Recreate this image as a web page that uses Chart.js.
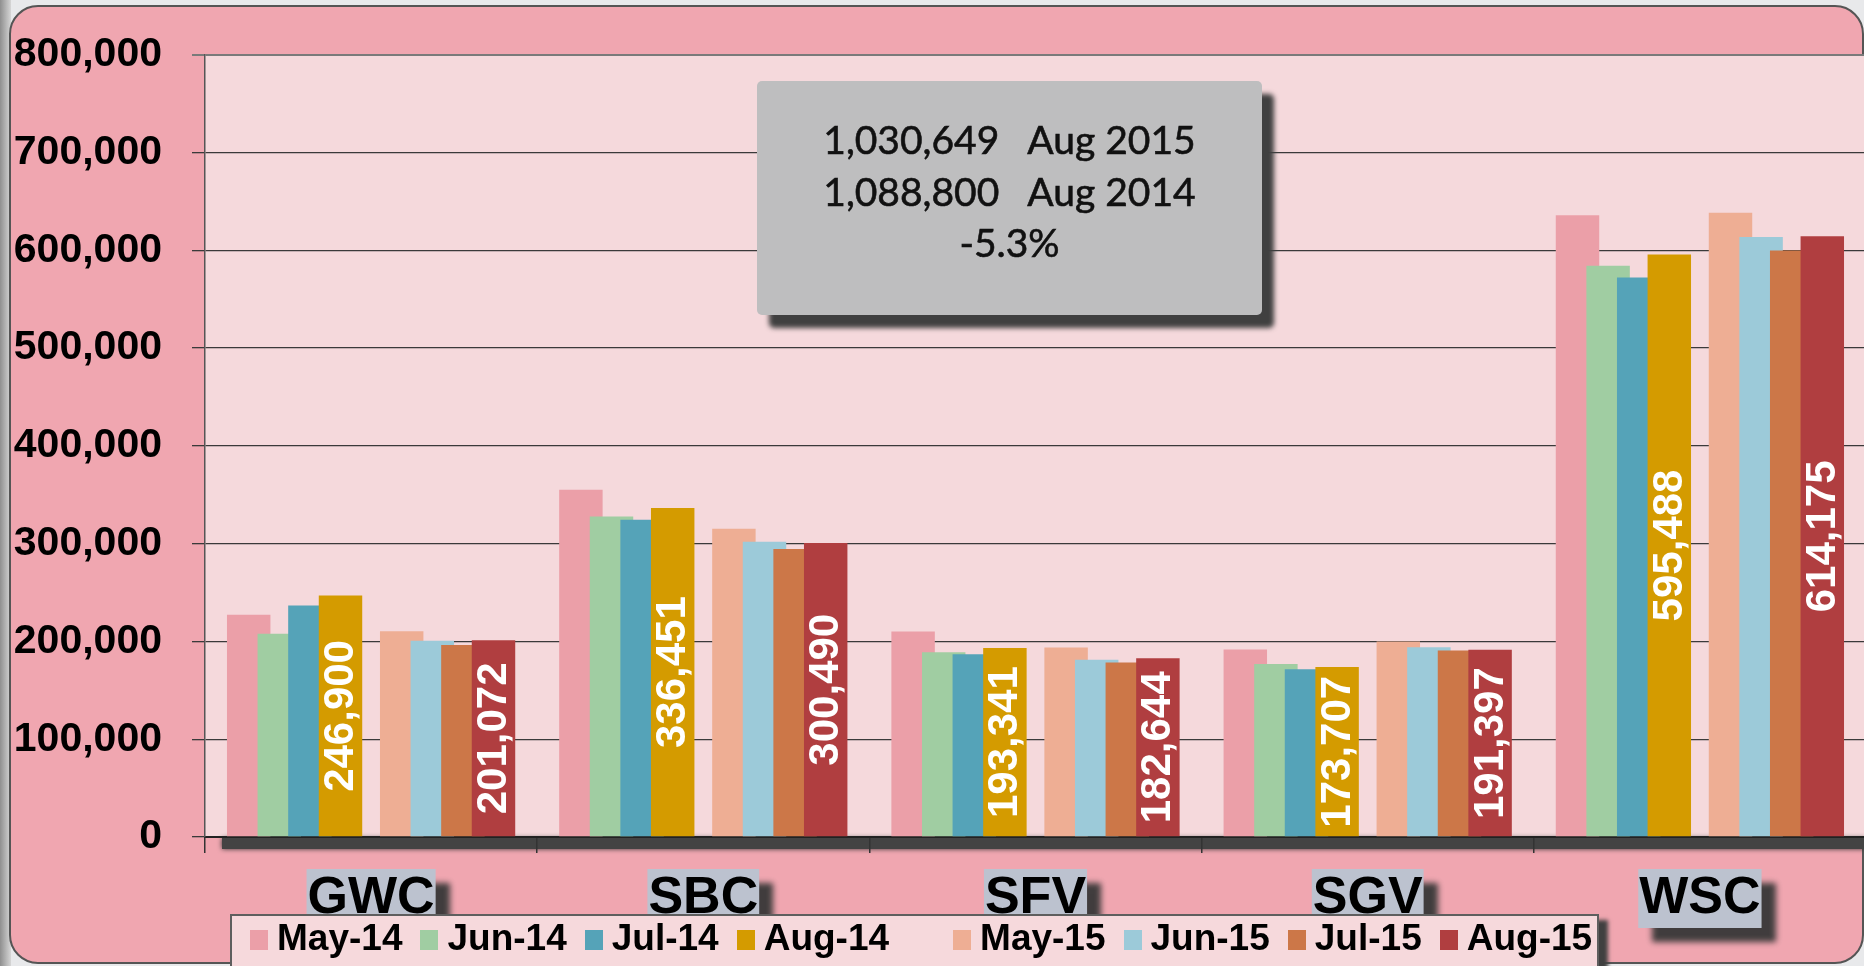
<!DOCTYPE html>
<html>
<head>
<meta charset="utf-8">
<title>Aug 2015 vs Aug 2014</title>
<script src="https://cdn.jsdelivr.net/npm/chart.js@4.4.1/dist/chart.umd.min.js"></script>
<style>
  html, body { margin: 0; padding: 0; width: 1864px; height: 966px; overflow: hidden; background: #e9e9eb; }
  #wrap { position: relative; width: 1864px; height: 966px; overflow: hidden; }
  #chart { position: absolute; left: 0; top: 0; }
  .note {
    position: absolute; left: 757px; top: 81px; width: 505px; height: 234px;
    background: #bebebf; border-radius: 5px; box-shadow: 12px 13px 5px #404040;
    font-family: Lato, "Open Sans", sans-serif; font-size: 39px; line-height: 52px; color: #111;
    -webkit-text-stroke: 0.6px #111;
  }
  .note div { position: absolute; left: 0; right: 0; text-align: center; white-space: pre; }
  .legend {
    position: absolute; left: 230px; top: 914px; width: 1369px; height: 60px;
    background: #f6d9dc; border: 2px solid #5e5e5e; box-shadow: 9px 6px 4px #404040;
    font: bold 37px "Liberation Sans", Arial, sans-serif; line-height: 37px; color: #000;
    display: flex; align-items: flex-start; padding: 3px 0 0 18px; box-sizing: border-box;
    white-space: nowrap;
  }
  .legend .item { display: flex; align-items: flex-start; margin-right: 18px; flex-shrink: 0; white-space: nowrap; }
  .legend .sw { width: 18px; height: 20px; margin-top: 11px; margin-right: 9px; flex-shrink: 0; }
  .legend .gap { width: 46px; flex-shrink: 0; }
</style>
</head>
<body>
<div id="wrap">
  <canvas id="chart" width="1868" height="966"></canvas>
  <div class="note">
    <div style="top:32px">1,030,649<span style="margin-left:28px">Aug 2015</span></div>
    <div style="top:84px">1,088,800<span style="margin-left:28px">Aug 2014</span></div>
    <div style="top:135px">-5.3%</div>
  </div>
  <div class="legend" id="legend"></div>
</div>
<script>
// regions
const categories = ["GWC", "SBC", "SFV", "SGV", "WSC"];

// monthly values per region
const may14 = [227300, 355000, 210000, 191700, 635800];
const jun14 = [207900, 327600, 188900, 176800, 584200];
const jul14 = [236800, 324300, 186900, 171400, 572000];
const aug14 = [246900, 336451, 193341, 173707, 595488];
const may15 = [210300, 315100, 193700, 199900, 638400];
const jun15 = [200700, 301900, 181300, 194100, 613600];
const jul15 = [196300, 294400, 178500, 190700, 599700];
const aug15 = [201072, 300490, 182644, 191397, 614175];

const seriesLabels = ["May-14", "Jun-14", "Jul-14", "Aug-14", "May-15", "Jun-15", "Jul-15", "Aug-15"];
const seriesColors = ["#eb9fa8", "#a0cda2", "#55a3b8", "#d49b00", "#eeae94", "#9ccad9", "#cc7748", "#b03e40"];
const labelledSeries = ["Aug-14", "Aug-15"];

const yMin = 0;
const yMax = 800000;
const yStep = 100000;

const FONT = '"Liberation Sans", Arial, sans-serif';
const fmt = v => Number(v).toLocaleString("en-US");

// 2014 block, empty slot, 2015 block
const allSeries = [may14, jun14, jul14, aug14, may15, jun15, jul15, aug15];
const datasets = [];
allSeries.forEach((vals, i) => {
  if (i === 4) datasets.push({ label: "", data: categories.map(() => null), backgroundColor: "transparent" });
  datasets.push({ label: seriesLabels[i], data: vals, backgroundColor: seriesColors[i], borderWidth: 0 });
});

// legend
const legendEl = document.getElementById("legend");
seriesLabels.forEach((lab, i) => {
  if (i === 4) {
    const g = document.createElement("span");
    g.className = "gap";
    legendEl.appendChild(g);
  }
  const item = document.createElement("span");
  item.className = "item";
  item.innerHTML = `<span class="sw" style="background:${seriesColors[i]}"></span><span>${lab}</span>`;
  legendEl.appendChild(item);
});

// background, panel, floor, category label boxes
const backdrop = {
  id: "backdrop",
  beforeDraw(chart) {
    const { ctx, chartArea: a } = chart;
    ctx.save();
    ctx.fillStyle = "#e8e9eb";
    ctx.fillRect(0, 0, chart.width, chart.height);
    const g = ctx.createLinearGradient(0, 0, 11, 0);
    g.addColorStop(0, "#8f8f8f");
    g.addColorStop(1, "#d6d6d6");
    ctx.fillStyle = g;
    ctx.fillRect(0, 0, 11, chart.height);

    ctx.beginPath();
    ctx.roundRect(10, 6, 1853, 957, 28);
    ctx.fillStyle = "#f0a6b0";
    ctx.fill();
    ctx.lineWidth = 2;
    ctx.strokeStyle = "#555";
    ctx.stroke();

    ctx.fillStyle = "#f5d9dc";
    ctx.fillRect(a.left, a.top, a.right - a.left, a.bottom - a.top);

    ctx.save();
    ctx.shadowColor = "#333";
    ctx.shadowBlur = 5;
    ctx.fillStyle = "#434343";
    ctx.fillRect(222, a.bottom + 1, a.right - 222, 11);
    ctx.restore();

    const x = chart.scales.x;
    ctx.font = "bold 52px " + FONT;
    categories.forEach((c, i) => {
      const cx = x.getPixelForTick(i);
      const w = ctx.measureText(c).width + 2;
      ctx.save();
      ctx.shadowColor = "rgba(55,55,55,0.95)";
      ctx.shadowBlur = 6;
      ctx.shadowOffsetX = 14;
      ctx.shadowOffsetY = 14;
      ctx.fillStyle = "#bcc2cf";
      ctx.fillRect(cx - w / 2, 869, w, 59);
      ctx.restore();
    });
    ctx.restore();
  }
};

// later series sit on top of earlier ones
const drawOrder = {
  id: "drawOrder",
  beforeDatasetsDraw(chart) {
    chart.data.datasets.forEach((ds, i) => {
      const meta = chart.getDatasetMeta(i);
      if (meta.visible) meta.controller.draw();
    });
    return false;
  }
};

// vertical value labels inside the August bars
const barLabels = {
  id: "barLabels",
  afterDraw(chart) {
    const { ctx } = chart;
    chart.data.datasets.forEach((ds, i) => {
      if (!labelledSeries.includes(ds.label)) return;
      chart.getDatasetMeta(i).data.forEach((bar, j) => {
        ctx.save();
        ctx.translate(bar.x + 1, (bar.y + bar.base) / 2);
        ctx.rotate(-Math.PI / 2);
        ctx.font = "bold 42px " + FONT;
        ctx.fillStyle = "#fff";
        ctx.textAlign = "center";
        ctx.textBaseline = "middle";
        ctx.fillText(fmt(ds.data[j]), 0, 0);
        ctx.restore();
      });
    });
  }
};

new Chart(document.getElementById("chart"), {
  type: "bar",
  data: { labels: categories, datasets },
  options: {
    responsive: false,
    animation: false,
    layout: { padding: { left: 0, top: 52, right: 2, bottom: 0 } },
    datasets: { bar: { categoryPercentage: 0.829, barPercentage: 1.42 } },
    plugins: { legend: { display: false }, tooltip: { enabled: false } },
    scales: {
      x: {
        grid: { offset: true, drawOnChartArea: false, drawTicks: true, tickLength: 16, color: "#333", lineWidth: 1.5 },
        border: { display: true, color: "#222", width: 2 },
        ticks: { font: { family: FONT, size: 52, weight: "bold" }, color: "#000", padding: 14, maxRotation: 0, autoSkip: false },
        afterFit: s => { s.height = 129; }
      },
      y: {
        min: yMin,
        max: yMax,
        ticks: { stepSize: yStep, font: { family: FONT, size: 41, weight: "bold" }, color: "#000", padding: 30, callback: v => fmt(v) },
        grid: { color: c => (c.tick && c.tick.value === yMax ? "#7a7a7a" : "#3a3a3a"), lineWidth: c => (c.tick && c.tick.value === yMax ? 2 : 1.3), tickLength: 13 },
        border: { color: "#555", width: 1.5 },
        afterFit: s => { s.width = 205; }
      }
    }
  },
  plugins: [backdrop, drawOrder, barLabels]
});
</script>
</body>
</html>
